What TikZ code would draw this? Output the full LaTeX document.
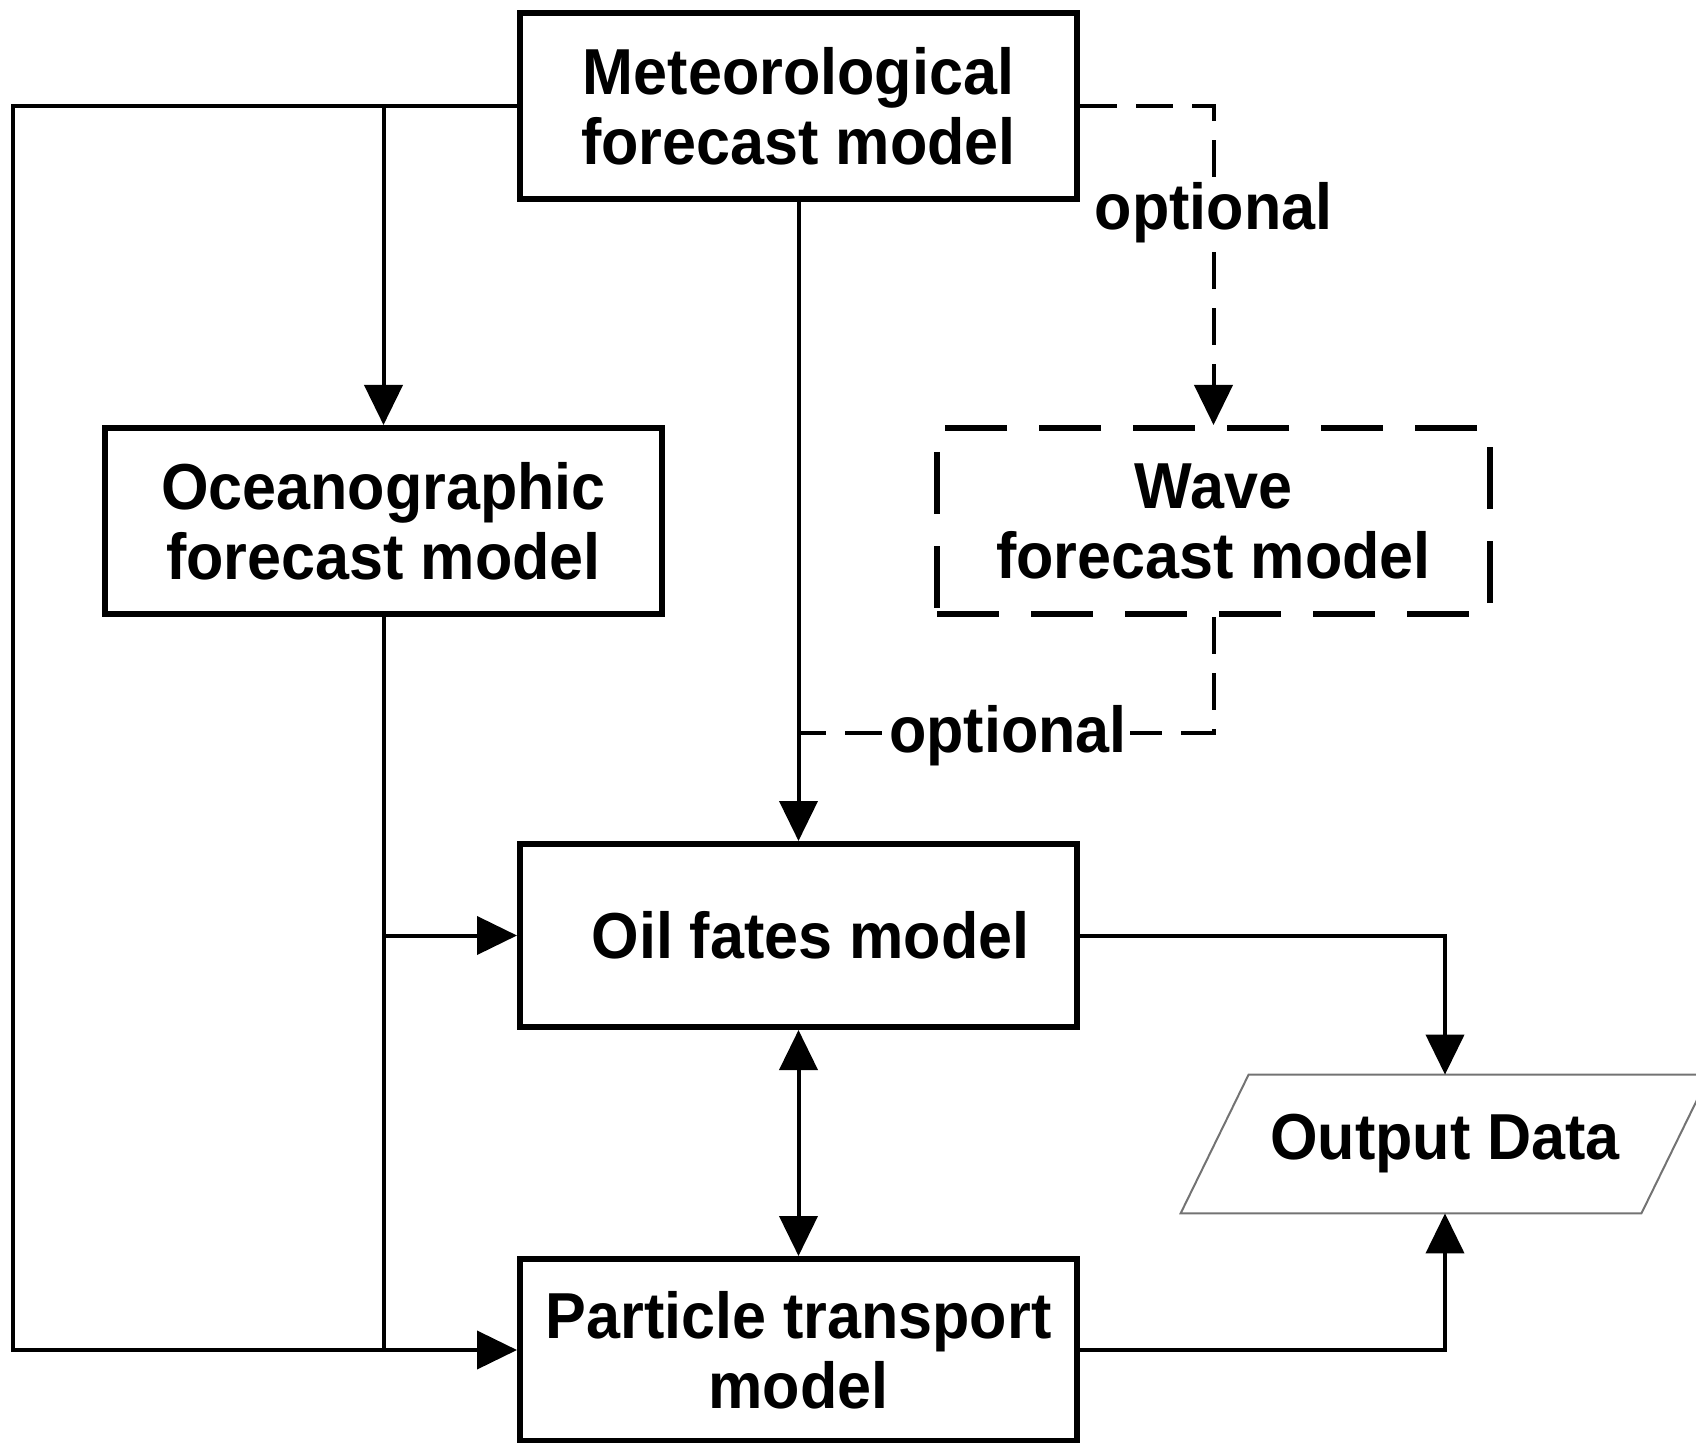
\documentclass[tikz,border=0pt]{standalone}
\usepackage{fontspec}
\setmainfont[FakeStretch=0.94]{Liberation Sans}
\usetikzlibrary{arrows.meta}
\newcommand\diagfont{\fontsize{32.5}{35}\selectfont\bfseries}
\begin{document}
\begin{tikzpicture}[x=0.5pt,y=-0.5pt,
  box/.style={draw, line width=3pt, minimum width=278.5pt, minimum height=93pt,
    align=center, inner sep=0pt, font=\diagfont},
  wavebox/.style={dash pattern=on 31pt off 16pt, minimum width=276.5pt},
  tip/.style={},
  line/.style={line width=2pt},
  conn/.style={line width=2pt, -{Triangle[length=20pt,width=19pt]}},
  dbl/.style={line width=2pt, {Triangle[length=20pt,width=19pt]}-{Triangle[length=20pt,width=19pt]}},
  dconn/.style={line width=2pt, dash pattern=on 18.5pt off 9.5pt, -{Triangle[length=20pt,width=19pt]}},
  dline/.style={line width=2pt, dash pattern=on 18.5pt off 9.5pt},
  lbl/.style={fill=white, inner sep=1.5pt, font=\diagfont},
  outtext/.style={minimum width=230pt, minimum height=69pt, inner sep=0pt, font=\diagfont},
  outline/.style={draw=black!55, line width=1pt}
]
\useasboundingbox (0,0) rectangle (1696,1443);
\clip (0,0) rectangle (1696,1443);

\node[box] (met) at (798.5,106) {Meteorological\\forecast model};
\node[box] (ocean) at (383.5,521) {Oceanographic\\forecast model};
\node[box, wavebox] (wave) at (1213.5,521) {Wave\\forecast model};
\node[box, minimum height=91.5pt] (oil) at (798.5,935.5) {\hspace*{12pt}Oil fates model};
\node[box, minimum height=91pt] (part) at (798.5,1350) {Particle transport\\model};
\node[outtext] (out) at (1445,1144) {Output Data};
\draw[outline] ([xshift=17pt]out.north west) -- ([xshift=17pt]out.north east)
  -- ([xshift=-17pt]out.south east) -- ([xshift=-17pt]out.south west) -- cycle;

\coordinate (lx) at (13,0);
\coordinate (ybot) at (0,733);

% left feed lines
\draw[conn] (met.west) -- (lx |- met.west) -- (lx |- part.west) -- (part.west);
\draw[conn] (ocean.north |- met.west) -- (ocean.north);
\draw[line] (ocean.south) -- (ocean.south |- part.west);
\draw[conn] (ocean.south |- oil.west) -- (oil.west);

% centre
\draw[conn] (met.south) -- (oil.north);
\draw[dbl] (oil.south) -- (part.north);

% optional wave branch
\draw[dconn] (met.east) -| (wave.north);
\node[lbl] (opt1) at (1213.5,213) {optional};
\draw[dline] (wave.south) -- (wave.south |- ybot) -- (met.south |- ybot);
\node[lbl] (opt2) at (1008,736) {optional};

% outputs
\draw[conn] (oil.east) -| (out.north);
\draw[conn] (part.east) -| (out.south);
\end{tikzpicture}
\end{document}
